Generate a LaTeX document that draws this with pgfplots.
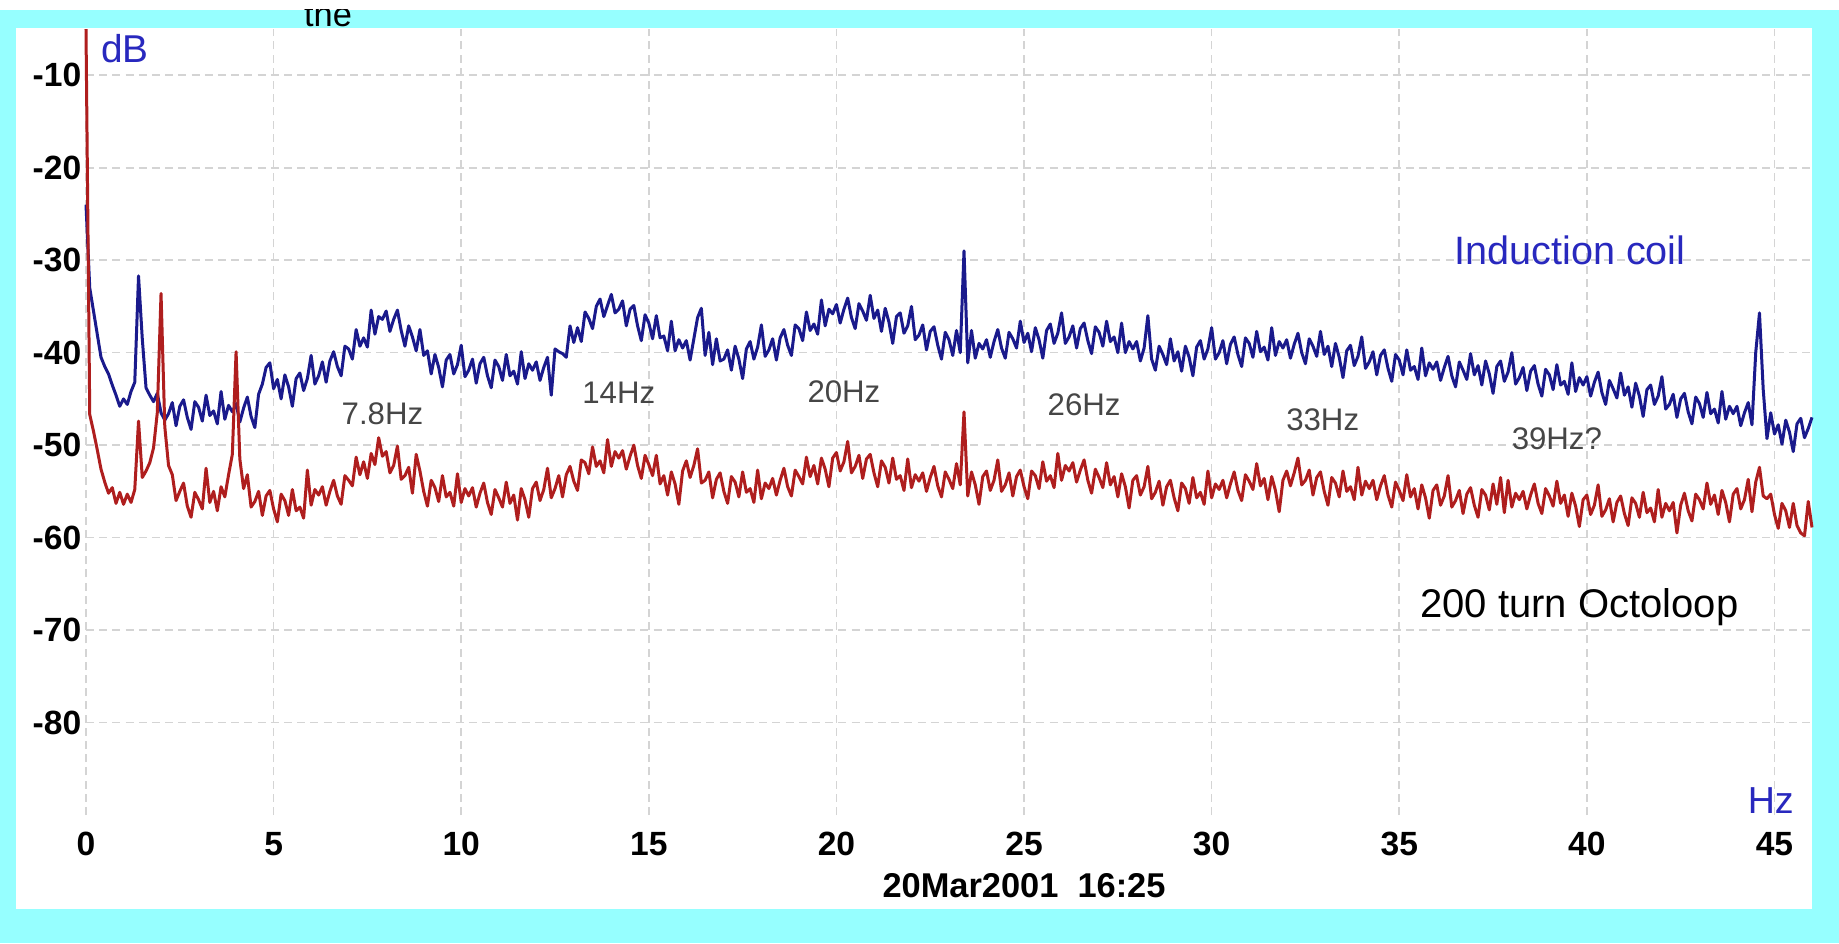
\documentclass[border=0pt]{standalone}
\usepackage{fontspec}
\setmainfont{Liberation Sans}
\usepackage{pgfplots}
\usepackage{pgfplotstable}
\pgfplotsset{compat=1.18}
\definecolor{bgcyan}{RGB}{150,255,255}
\definecolor{coilblue}{RGB}{26,26,140}
\definecolor{loopred}{RGB}{175,30,30}
\definecolor{txtblue}{RGB}{40,40,190}
\definecolor{gridgray}{RGB}{212,212,212}
\definecolor{lblgray}{RGB}{70,70,70}

\pgfplotstableread{
x b r
0.0 -24 -5
0.1 -33 -46.7
0.2 -35.5 -48.5
0.3 -38 -50.5
0.4 -40.5 -52.6
0.5 -41.5 -54
0.6 -42.3 -55.2
0.7 -43.5 -54.6
0.8 -44.6 -56.3
0.9 -45.8 -55.1
1.0 -45 -56.4
1.1 -45.6 -55.3
1.2 -44.2 -56.2
1.3 -43.2 -54.8
1.4 -31.7 -47.4
1.5 -38.5 -53.5
1.6 -43.8 -52.8
1.7 -44.6 -51.9
1.8 -45.3 -50.3
1.9 -44.4 -46.5
2.0 -46.5 -33.6
2.1 -47.3 -48.0
2.2 -46.6 -52.2
2.3 -45.4 -53.2
2.4 -47.9 -56.0
2.5 -45.8 -55.0
2.6 -45.1 -54.1
2.7 -47.0 -56.6
2.8 -48.3 -57.8
2.9 -45.3 -55.1
3.0 -45.9 -55.9
3.1 -47.4 -56.9
3.2 -44.6 -52.5
3.3 -46.8 -56.2
3.4 -46.3 -55.0
3.5 -47.7 -57.1
3.6 -44.2 -54.5
3.7 -47.2 -55.6
3.8 -45.7 -53.2
3.9 -46.4 -51.0
4.0 -45.5 -39.9
4.1 -47.5 -51.5
4.2 -46.0 -54.7
4.3 -44.8 -53.2
4.4 -46.9 -56.7
4.5 -48.1 -56.1
4.6 -44.5 -55.0
4.7 -43.4 -57.6
4.8 -41.6 -55.5
4.9 -41.1 -54.9
5.0 -43.9 -56.9
5.1 -42.9 -58.3
5.2 -45.0 -55.3
5.3 -42.4 -56.0
5.4 -43.7 -57.6
5.5 -45.8 -54.8
5.6 -42.8 -57.1
5.7 -42.2 -56.7
5.8 -44.1 -57.9
5.9 -42.8 -52.7
6.0 -40.3 -56.5
6.1 -43.4 -54.8
6.2 -42.5 -55.4
6.3 -41.0 -54.5
6.4 -43.2 -56.5
6.5 -40.9 -55.0
6.6 -39.9 -53.8
6.7 -41.5 -55.5
6.8 -42.5 -56.4
6.9 -39.3 -53.3
7.0 -39.6 -53.8
7.1 -40.7 -54.4
7.2 -37.5 -51.3
7.3 -39.3 -53.2
7.4 -38.4 -51.8
7.5 -39.4 -53.6
7.6 -35.4 -50.9
7.7 -38.0 -52.1
7.8 -36.1 -49.2
7.9 -36.4 -51.2
8.0 -35.5 -50.7
8.1 -37.7 -53.0
8.2 -36.4 -52.2
8.3 -35.4 -50.1
8.4 -37.6 -53.7
8.5 -39.3 -53.3
8.6 -37.1 -52.4
8.7 -38.3 -55.2
8.8 -39.8 -51.0
8.9 -37.5 -52.8
9.0 -40.3 -55.0
9.1 -39.8 -56.6
9.2 -42.3 -53.8
9.3 -40.2 -54.6
9.4 -41.6 -56.1
9.5 -43.7 -53.3
9.6 -40.8 -55.6
9.7 -40.2 -55.1
9.8 -42.3 -56.6
9.9 -41.3 -53.1
10.0 -39.2 -56.2
10.1 -42.6 -54.7
10.2 -41.9 -55.5
10.3 -40.7 -54.6
10.4 -43.3 -56.7
10.5 -41.2 -55.2
10.6 -40.5 -54.1
10.7 -42.5 -56.2
10.8 -43.8 -57.5
10.9 -40.8 -54.8
11.0 -41.5 -55.7
11.1 -43.0 -56.7
11.2 -40.2 -54.0
11.3 -42.5 -56.3
11.4 -42.0 -55.4
11.5 -43.4 -58.1
11.6 -39.9 -54.7
11.7 -42.8 -55.9
11.8 -41.2 -57.8
11.9 -41.9 -54.7
12.0 -41.0 -54.0
12.1 -43.0 -56.0
12.2 -41.6 -54.8
12.3 -40.5 -52.5
12.4 -44.6 -55.7
12.5 -39.6 -54.7
12.6 -39.9 -53.3
12.7 -40.1 -55.6
12.8 -40.5 -53.2
12.9 -37.1 -52.3
13.0 -38.9 -53.9
13.1 -37.3 -54.9
13.2 -38.8 -51.6
13.3 -35.6 -51.9
13.4 -36.3 -53.1
13.5 -37.4 -50.2
13.6 -35.0 -52.3
13.7 -34.2 -51.7
13.8 -36.1 -53.0
13.9 -34.9 -49.4
14.0 -33.7 -52.3
14.1 -35.7 -50.7
14.2 -35.3 -51.4
14.3 -34.4 -50.6
14.4 -37.1 -52.6
14.5 -35.3 -51.2
14.6 -34.9 -50.0
14.7 -37.1 -52.2
14.8 -38.7 -53.6
14.9 -35.9 -51.1
15.0 -36.8 -52.1
15.1 -38.5 -53.3
15.2 -36.0 -51.1
15.3 -38.4 -54.2
15.4 -38.2 -53.3
15.5 -39.8 -55.4
15.6 -36.6 -52.9
15.7 -39.8 -54.2
15.8 -38.6 -56.4
15.9 -39.5 -52.8
16.0 -38.7 -51.7
16.1 -40.8 -53.5
16.2 -38.5 -52.2
16.3 -36.2 -50.4
16.4 -35.2 -54.1
16.5 -40.3 -53.8
16.6 -37.8 -52.9
16.7 -41.3 -55.7
16.8 -38.5 -53.7
16.9 -40.9 -53.0
17.0 -40.7 -55.0
17.1 -39.7 -56.3
17.2 -41.9 -53.4
17.3 -39.3 -54.0
17.4 -40.7 -55.6
17.5 -42.8 -52.9
17.6 -39.6 -55.1
17.7 -38.8 -54.7
17.8 -40.7 -56.2
17.9 -39.4 -52.7
18.0 -37.0 -55.8
18.1 -40.4 -54.1
18.2 -39.7 -54.7
18.3 -38.5 -53.6
18.4 -40.8 -55.4
18.5 -38.4 -53.8
18.6 -37.5 -52.5
18.7 -39.2 -54.5
18.8 -40.3 -55.5
18.9 -37.0 -52.7
19.0 -37.4 -53.4
19.1 -38.7 -54.2
19.2 -35.6 -51.3
19.3 -37.6 -53.4
19.4 -36.9 -52.2
19.5 -38.0 -54.2
19.6 -34.3 -51.4
19.7 -37.1 -52.6
19.8 -35.3 -54.5
19.9 -35.8 -51.4
20.0 -34.8 -50.8
20.1 -36.8 -52.8
20.2 -35.3 -51.8
20.3 -34.1 -49.6
20.4 -36.2 -53.0
20.5 -37.4 -52.3
20.6 -34.7 -51.1
20.7 -35.5 -53.6
20.8 -36.5 -51.5
20.9 -33.8 -51.0
21.0 -36.3 -53.0
21.1 -35.4 -54.5
21.2 -37.7 -51.7
21.3 -35.2 -52.4
21.4 -36.7 -54.1
21.5 -39.0 -51.4
21.6 -36.1 -53.7
21.7 -35.7 -53.3
21.8 -37.9 -54.9
21.9 -37.1 -51.5
22.0 -35.0 -54.6
22.1 -38.6 -53.2
22.2 -38.1 -53.9
22.3 -37.0 -53.0
22.4 -39.7 -55.0
22.5 -37.7 -53.5
22.6 -37.2 -52.3
22.7 -39.2 -54.4
22.8 -40.7 -55.6
22.9 -37.8 -52.9
23.0 -38.6 -53.7
23.1 -40.3 -54.7
23.2 -37.6 -52.0
23.3 -40.0 -54.3
23.4 -29.0 -46.4
23.5 -41.1 -55.5
23.6 -37.6 -52.9
23.7 -40.6 -54.3
23.8 -39.0 -56.4
23.9 -39.6 -53.4
24.0 -38.6 -52.8
24.1 -40.5 -54.9
24.2 -38.8 -53.8
24.3 -37.5 -51.6
24.4 -39.5 -55.0
24.5 -40.6 -54.3
24.6 -37.8 -53.0
24.7 -38.5 -55.5
24.8 -39.5 -53.4
24.9 -36.6 -52.7
25.0 -38.9 -54.5
25.1 -37.9 -55.8
25.2 -39.9 -52.8
25.3 -37.3 -53.3
25.4 -38.6 -54.7
25.5 -40.6 -51.8
25.6 -37.6 -53.9
25.7 -36.9 -53.3
25.8 -39.0 -54.6
25.9 -37.9 -50.9
26.0 -35.7 -53.8
26.1 -39.0 -52.2
26.2 -38.3 -52.8
26.3 -37.1 -51.9
26.4 -39.5 -54.0
26.5 -37.4 -52.7
26.6 -36.8 -51.6
26.7 -38.7 -53.8
26.8 -40.1 -55.2
26.9 -37.2 -52.6
27.0 -37.8 -53.5
27.1 -39.3 -54.6
27.2 -36.6 -51.9
27.3 -38.8 -54.3
27.4 -38.3 -53.4
27.5 -40.0 -55.6
27.6 -36.8 -53.1
27.7 -40.0 -54.5
27.8 -38.8 -56.8
27.9 -39.6 -53.8
28.0 -38.8 -53.3
28.1 -40.9 -55.4
28.2 -39.5 -54.5
28.3 -36.0 -52.3
28.4 -40.7 -55.8
28.5 -41.9 -55.1
28.6 -39.3 -53.9
28.7 -40.2 -56.5
28.8 -41.3 -54.5
28.9 -38.5 -53.8
29.0 -40.9 -55.7
29.1 -39.9 -57.1
29.2 -42.0 -54.1
29.3 -39.3 -54.7
29.4 -40.5 -56.3
29.5 -42.5 -53.5
29.6 -39.4 -55.7
29.7 -38.7 -55.1
29.8 -40.7 -56.4
29.9 -39.6 -52.8
30.0 -37.3 -55.7
30.1 -40.7 -54.2
30.2 -40.0 -54.8
30.3 -38.7 -53.8
30.4 -41.2 -55.7
30.5 -39.1 -54.2
30.6 -38.3 -52.9
30.7 -40.2 -54.9
30.8 -41.5 -56.0
30.9 -38.4 -53.2
31.0 -39.0 -53.9
31.1 -40.5 -54.8
31.2 -37.7 -52.0
31.3 -39.9 -54.4
31.4 -39.4 -53.6
31.5 -40.8 -55.9
31.6 -37.3 -53.4
31.7 -40.3 -54.9
31.8 -38.8 -57.2
31.9 -39.5 -53.8
32.0 -38.6 -52.8
32.1 -40.6 -54.4
32.2 -39.1 -53.0
32.3 -37.9 -51.4
32.4 -40.0 -54.3
32.5 -41.2 -53.8
32.6 -38.5 -52.7
32.7 -39.3 -55.4
32.8 -40.4 -53.5
32.9 -37.7 -52.9
33.0 -40.2 -55.0
33.1 -39.3 -56.5
33.2 -41.5 -53.5
33.3 -39.0 -54.1
33.4 -40.5 -55.6
33.5 -42.7 -52.8
33.6 -39.8 -55.0
33.7 -39.2 -54.5
33.8 -41.4 -55.9
33.9 -40.4 -52.4
34.0 -38.3 -55.4
34.1 -41.7 -53.9
34.2 -41.0 -54.7
34.3 -39.9 -53.8
34.4 -42.4 -55.9
34.5 -40.3 -54.4
34.6 -39.7 -53.3
34.7 -41.7 -55.4
34.8 -43.1 -56.7
34.9 -40.2 -54.0
35.0 -40.8 -54.9
35.1 -42.4 -56.0
35.2 -39.7 -53.2
35.3 -41.9 -55.6
35.4 -41.5 -54.7
35.5 -42.9 -56.9
35.6 -39.5 -54.3
35.7 -42.5 -55.7
35.8 -41.1 -57.9
35.9 -41.8 -54.9
36.0 -41.0 -54.3
36.1 -43.0 -56.5
36.2 -41.6 -55.5
36.3 -40.4 -53.3
36.4 -42.5 -56.7
36.5 -43.7 -56.0
36.6 -41.0 -54.9
36.7 -41.9 -57.4
36.8 -42.9 -55.3
36.9 -40.1 -54.6
37.0 -42.4 -56.5
37.1 -41.4 -57.8
37.2 -43.5 -54.8
37.3 -40.9 -55.4
37.4 -42.3 -57.0
37.5 -44.4 -54.2
37.6 -41.5 -56.4
37.7 -40.9 -53.5
37.8 -43.1 -57.3
37.9 -42.1 -53.8
38.0 -40.0 -56.7
38.1 -43.4 -55.2
38.2 -42.7 -55.9
38.3 -41.6 -55.0
38.4 -44.1 -56.9
38.5 -42.0 -55.4
38.6 -41.4 -54.2
38.7 -43.4 -56.3
38.8 -44.7 -57.4
38.9 -41.8 -54.7
39.0 -42.4 -55.5
39.1 -44.0 -56.6
39.2 -41.3 -53.9
39.3 -43.5 -56.3
39.4 -43.1 -55.4
39.5 -44.5 -57.7
39.6 -41.1 -55.2
39.7 -44.2 -56.6
39.8 -42.7 -58.8
39.9 -43.5 -55.9
40.0 -42.6 -55.4
40.1 -44.7 -57.5
40.2 -43.2 -56.5
40.3 -42.1 -54.3
40.4 -44.3 -57.7
40.5 -45.6 -57.0
40.6 -43.0 -55.8
40.7 -43.9 -58.3
40.8 -44.9 -56.2
40.9 -42.2 -55.5
41.0 -44.6 -57.4
41.1 -43.7 -58.7
41.2 -45.9 -55.7
41.3 -43.3 -56.3
41.4 -44.7 -57.8
41.5 -46.9 -55.1
41.6 -44.0 -57.3
41.7 -43.5 -56.8
41.8 -45.6 -58.3
41.9 -44.7 -54.8
42.0 -42.6 -57.8
42.1 -46.1 -56.3
42.2 -45.6 -57.1
42.3 -44.5 -56.2
42.4 -47.0 -59.5
42.5 -45.0 -56.5
42.6 -44.4 -55.2
42.7 -46.4 -57.1
42.8 -47.7 -58.2
42.9 -44.8 -55.3
43.0 -45.5 -55.9
43.1 -47.0 -56.9
43.2 -44.3 -54.1
43.3 -46.6 -56.4
43.4 -46.1 -55.4
43.5 -47.6 -57.5
43.6 -44.2 -54.9
43.7 -47.2 -56.2
43.8 -45.8 -58.3
43.9 -46.6 -55.3
44.0 -45.8 -54.7
44.1 -47.9 -56.9
44.2 -46.5 -55.9
44.3 -45.4 -53.7
44.4 -47.8 -57.2
44.5 -40.0 -54.0
44.6 -35.7 -52.4
44.7 -44.0 -55.5
44.8 -49.3 -55.8
44.9 -46.5 -55.3
45.0 -48.8 -57.5
45.1 -47.8 -59.0
45.2 -49.9 -56.3
45.3 -47.3 -57.1
45.4 -48.6 -58.9
45.5 -50.7 -56.3
45.6 -47.7 -58.7
45.7 -47.1 -59.5
45.8 -49.2 -59.8
45.9 -48.2 -56.1
46.0 -47.0 -58.9
}\spec

\begin{document}
\begin{tikzpicture}
\fill[white] (-21.5pt,-32pt) rectangle (438.25pt,203.75pt);
\fill[bgcyan] (-21.5pt,-32pt) rectangle (438.25pt,201.25pt);
\fill[white] (-17.5pt,-23.5pt) rectangle (431.5pt,196.75pt);
\begin{scope}
\clip (-21.5pt,-32pt) rectangle (438.25pt,201.25pt);
\node[anchor=base, font=\fontsize{8.6}{10}\selectfont, inner sep=0pt] at (60.5pt,197pt) {the};
\end{scope}
\begin{axis}[
  at={(0pt,0pt)}, anchor=south west,
  scale only axis, width=431.5pt, height=196.5pt,
  xmin=0, xmax=46, ymin=-90, ymax=-5,
  xtick={0,5,10,15,20,25,30,35,40,45},
  ytick={-80,-70,-60,-50,-40,-30,-20,-10},
  xticklabels={0,5,10,15,20,25,30,35,40,45},
  yticklabels={-80,-70,-60,-50,-40,-30,-20,-10},
  grid=major,
  major grid style={gridgray, line width=0.4pt, dash pattern=on 2pt off 1.3pt},
  axis line style={draw=none},
  major tick length=0pt,
  tick label style={font=\fontsize{8.4}{10}\selectfont\bfseries, inner sep=0pt},
  xticklabel style={anchor=base, yshift=-10pt},
  yticklabel style={anchor=east, xshift=-1pt},
  clip=false,
]
\addplot[coilblue, line width=0.75pt, line join=round] table[x=x, y=b] {\spec};
\addplot[loopred, line width=0.75pt, line join=round] table[x=x, y=r] {\spec};

\node[anchor=base, text=txtblue, font=\fontsize{9.7}{11}\selectfont, inner sep=0pt] at (axis cs:1.04,-8.6) {dB};
\node[anchor=base, text=txtblue, font=\fontsize{9.4}{11}\selectfont, inner sep=0pt] at (axis cs:44.9,-89.8) {Hz};
\node[anchor=base, text=txtblue, font=\fontsize{9.9}{11}\selectfont, inner sep=0pt] at (axis cs:39.55,-30.5) {Induction coil};
\node[anchor=base, text=black, font=\fontsize{10}{12}\selectfont, inner sep=0pt] at (axis cs:39.8,-68.6) {200 turn Octoloop};
\node[anchor=base, text=lblgray, font=\fontsize{7.8}{9}\selectfont, inner sep=0pt] at (axis cs:7.9,-47.8) {7.8Hz};
\node[anchor=base, text=lblgray, font=\fontsize{7.8}{9}\selectfont, inner sep=0pt] at (axis cs:14.2,-45.5) {14Hz};
\node[anchor=base, text=lblgray, font=\fontsize{7.8}{9}\selectfont, inner sep=0pt] at (axis cs:20.2,-45.35) {20Hz};
\node[anchor=base, text=lblgray, font=\fontsize{7.8}{9}\selectfont, inner sep=0pt] at (axis cs:26.6,-46.8) {26Hz};
\node[anchor=base, text=lblgray, font=\fontsize{7.8}{9}\selectfont, inner sep=0pt] at (axis cs:32.96,-48.4) {33Hz};
\node[anchor=base, text=lblgray, font=\fontsize{7.8}{9}\selectfont, inner sep=0pt] at (axis cs:39.2,-50.5) {39Hz?};
\node[anchor=base, text=black, font=\fontsize{8.6}{10}\selectfont\bfseries, inner sep=0pt] at (axis cs:25.0,-98.9) {20Mar2001\ \ 16:25};
\end{axis}
\pgfresetboundingbox
\useasboundingbox (-21.5pt,-32pt) rectangle (438.25pt,203.75pt);
\end{tikzpicture}
\end{document}
